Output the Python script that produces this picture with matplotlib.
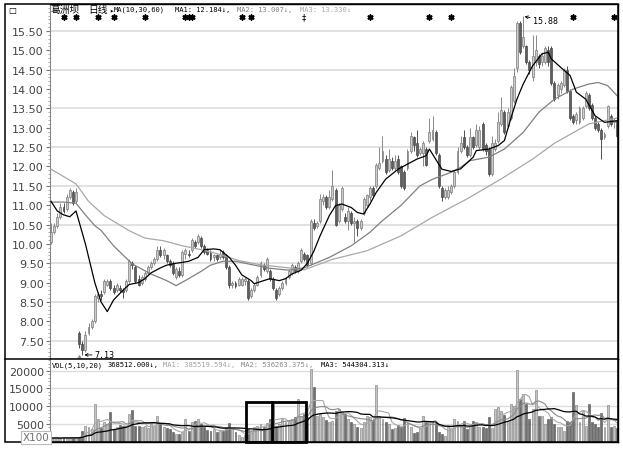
#!/usr/bin/env python3
"""
葛洲坝 日线 K线图 + 成交量 (仿行情软件截图)
输出: out.png
"""

import numpy as np
import pandas as pd
import matplotlib
matplotlib.use("Agg")
import matplotlib.pyplot as plt
from matplotlib.patches import Rectangle
from matplotlib.lines import Line2D
from matplotlib.ticker import MultipleLocator

# --- K线数据 (从截图估读) ---
opens = [
    10.05, 10.30, 10.45, 10.70, 10.95, 10.90, 11.20, 11.35, 11.10,
    7.70, 7.40, 7.25, 7.70, 7.85, 8.00, 8.60, 8.70,
    8.75, 8.95, 9.05, 8.85, 8.80, 8.85, 8.80, 8.80, 9.05, 9.50, 9.40, 9.10, 9.00, 9.10,
    9.25, 9.40, 9.50, 9.60, 9.85, 9.70, 9.70, 9.55, 9.50, 9.15, 9.30, 9.20, 9.75, 9.75,
    9.85, 10.05, 10.05, 10.15, 9.95, 9.85, 9.80, 9.65, 9.70, 9.65, 9.80,
    9.70, 9.40, 8.95, 9.00, 8.95, 8.95, 9.05, 9.05, 8.65, 8.80, 8.95, 9.20, 9.45, 9.30,
    9.30, 9.10, 8.80, 8.70, 8.85, 9.00, 9.15, 9.25,
    9.40, 9.30, 9.55, 9.75, 9.70, 9.50, 10.55, 10.45, 10.60,
    11.10, 11.20, 10.95, 11.15, 11.40, 10.60, 10.90, 10.70, 10.60, 10.80, 10.55, 10.60,
    10.40, 10.80, 11.00, 11.20, 11.45, 11.50, 11.95, 12.15, 12.20, 11.90, 12.15, 11.95,
    12.20, 12.00, 11.85, 11.95, 12.40, 12.75, 12.60, 12.35, 12.35, 12.45, 12.65, 12.70,
    12.90, 12.30, 11.45, 11.20, 11.20, 11.35, 11.50, 11.85, 12.40, 12.75, 12.50, 12.30,
    12.75, 12.55, 12.50, 13.10, 12.55, 12.45, 11.80, 12.45, 12.65, 13.10, 13.40, 13.05,
    13.25, 13.70, 14.55, 15.70, 15.10, 15.10, 14.70, 14.30, 14.70, 14.85, 14.70, 14.70,
    15.00, 15.05, 14.15, 13.85, 14.00, 14.10, 14.50, 13.95, 13.30, 13.20, 13.15, 13.25,
    13.55, 13.85, 13.60, 13.25, 13.10, 12.95, 12.75, 13.05, 13.30, 13.15, 13.20,
]
closes = [
    10.30, 10.45, 10.70, 10.95, 10.85, 11.20, 11.40, 11.05, 11.35,
    7.40, 7.25, 7.65, 7.85, 8.00, 8.65, 8.70, 8.65,
    9.05, 9.05, 8.85, 8.75, 8.95, 8.80, 8.75, 9.05, 9.55, 9.45, 9.05, 8.95, 9.15, 9.25,
    9.40, 9.50, 9.60, 9.85, 9.70, 9.85, 9.55, 9.45, 9.25, 9.35, 9.20, 9.80, 9.85, 9.70,
    10.10, 9.95, 10.20, 9.95, 9.80, 9.75, 9.60, 9.70, 9.60, 9.75, 9.65,
    9.40, 8.95, 9.00, 8.90, 9.10, 9.10, 9.10, 8.60, 8.80, 8.95, 9.15, 9.50, 9.35, 9.60,
    9.10, 8.85, 8.60, 8.85, 9.00, 9.10, 9.30, 9.45,
    9.30, 9.50, 9.85, 9.60, 9.45, 10.60, 10.40, 10.55, 11.15,
    11.20, 10.95, 11.20, 11.50, 10.50, 11.00, 11.45, 10.60, 10.85, 10.55, 10.60, 10.40,
    10.60, 11.15, 11.25, 11.45, 11.25, 12.05, 12.10, 12.40, 11.85, 12.20, 11.95, 12.15,
    11.85, 11.50, 11.45, 12.40, 12.80, 12.55, 12.30, 12.45, 12.60, 12.05, 12.90, 12.95,
    12.35, 11.50, 11.20, 11.40, 11.40, 11.50, 11.85, 12.40, 12.60, 12.50, 12.30, 12.75,
    12.50, 12.95, 12.95, 12.45, 12.40, 11.80, 12.60, 12.60, 13.15, 13.45, 12.90, 13.40,
    14.05, 14.35, 15.70, 14.95, 15.35, 14.70, 14.50, 14.85, 15.00, 14.65, 14.85, 15.05,
    14.70, 14.15, 13.75, 14.10, 14.15, 14.50, 13.95, 13.25, 13.15, 13.35, 13.50, 13.50,
    13.90, 13.50, 13.25, 13.00, 12.95, 12.70, 12.85, 13.55, 13.10, 13.20, 12.80,
]
highs = [
    10.55, 10.55, 10.80, 11.05, 11.05, 11.30, 11.45, 11.40, 11.45,
    7.75, 7.50, 7.75, 7.95, 8.05, 8.70, 8.75, 8.80,
    9.10, 9.10, 9.10, 8.95, 9.00, 8.95, 8.85, 9.10, 9.60, 9.55, 9.45, 9.20, 9.20, 9.30,
    9.45, 9.55, 9.65, 9.95, 9.95, 9.90, 9.75, 9.60, 9.55, 9.40, 9.40, 9.85, 9.90, 9.85,
    10.15, 10.10, 10.25, 10.20, 10.00, 9.90, 9.85, 9.75, 9.75, 9.85, 9.85,
    9.75, 9.45, 9.05, 9.05, 9.15, 9.15, 9.15, 9.10, 8.85, 9.00, 9.20, 9.55, 9.50, 9.65,
    9.35, 9.15, 8.85, 8.90, 9.05, 9.15, 9.35, 9.50,
    9.45, 9.55, 9.90, 9.80, 9.75, 10.65, 10.65, 10.60, 11.30,
    11.30, 11.25, 11.40, 11.90, 11.45, 11.05, 11.50, 10.80, 10.95, 10.85, 10.70, 10.65,
    10.65, 11.20, 11.30, 11.50, 11.50, 12.10, 12.50, 12.80, 12.30, 12.45, 12.25, 12.30,
    12.30, 12.05, 11.90, 12.45, 12.90, 12.80, 12.95, 12.50, 12.65, 12.50, 13.25, 13.30,
    12.95, 12.35, 11.50, 11.45, 11.50, 11.55, 11.90, 12.50, 12.80, 12.95, 12.55, 13.00,
    12.80, 13.10, 13.05, 13.15, 12.60, 12.50, 12.80, 12.70, 13.40, 13.80, 13.45, 13.50,
    14.10, 14.55, 15.75, 15.75, 15.88, 15.15, 14.75, 15.40, 15.40, 14.90, 14.95, 15.10,
    15.10, 15.10, 14.20, 14.15, 14.20, 14.55, 14.60, 14.00, 13.35, 13.40, 13.55, 13.55,
    13.95, 13.90, 13.65, 13.30, 13.15, 13.00, 12.90, 13.60, 13.35, 13.25, 13.25,
]
lows = [
    10.00, 10.25, 10.40, 10.65, 10.80, 10.85, 11.15, 11.00, 11.05,
    7.30, 7.13, 7.20, 7.65, 7.80, 7.95, 8.50, 8.55,
    8.70, 8.90, 8.80, 8.70, 8.75, 8.75, 8.60, 8.75, 9.00, 9.35, 9.00, 8.90, 8.95, 9.05,
    9.20, 9.35, 9.45, 9.55, 9.65, 9.60, 9.50, 9.40, 9.20, 9.10, 9.15, 9.15, 9.60, 9.65,
    9.80, 9.90, 10.00, 9.90, 9.75, 9.70, 9.55, 9.55, 9.55, 9.60, 9.60,
    9.35, 8.85, 8.85, 8.85, 8.90, 8.90, 8.95, 8.55, 8.60, 8.75, 8.90, 9.15, 9.30, 9.25,
    9.05, 8.80, 8.55, 8.65, 8.80, 8.95, 9.10, 9.20,
    9.25, 9.25, 9.50, 9.55, 9.40, 9.45, 10.35, 10.40, 10.55,
    11.00, 10.90, 10.90, 11.10, 10.45, 10.55, 10.85, 10.55, 10.35, 10.50, 10.05, 10.20,
    10.35, 10.75, 10.95, 11.10, 11.20, 11.45, 11.90, 12.10, 11.80, 11.85, 11.90, 11.90,
    11.80, 11.45, 11.40, 11.90, 12.35, 12.40, 12.25, 12.30, 12.00, 12.00, 12.60, 12.65,
    12.30, 11.45, 11.10, 11.15, 11.15, 11.30, 11.45, 11.80, 12.35, 12.45, 12.25, 12.25,
    12.45, 12.50, 12.45, 12.40, 12.30, 11.75, 11.75, 12.40, 12.60, 13.05, 12.85, 13.00,
    13.20, 13.65, 14.45, 14.90, 15.05, 14.65, 14.40, 14.20, 14.60, 14.55, 14.60, 14.65,
    14.60, 14.10, 13.70, 13.75, 13.90, 14.05, 13.90, 13.20, 13.10, 13.10, 13.10, 13.20,
    13.50, 13.45, 13.20, 12.95, 12.90, 12.20, 12.70, 13.00, 13.05, 13.00, 12.75,
]
# 成交量 (单位: 手 x100)
volumes = [
    900, 1100, 1000, 800, 1200, 1000, 900, 1100, 1000, 1300,
    3000, 4300, 4000, 3500, 10600, 6400, 3800, 5400, 4900, 8200,
    3500, 4000, 4700, 4500, 4000, 7700, 9000, 4500, 4300, 4000,
    4500, 3800, 4900, 4500, 7300, 4900, 4000, 3800, 3500, 2600,
    2100, 2100, 2800, 6300, 3100, 5400, 5900, 6300, 4900, 4000,
    3300, 3100, 3500, 2600, 3000, 3100, 4000, 5100, 3500, 2600,
    1700, 1200, 1700, 3500, 3100, 4000, 4500, 5000, 4200, 5200,
    6400, 10600, 4500, 5000, 6400, 5400, 5900, 6400, 6800, 12000,
    7300, 7800, 7000,
    20500, 15300, 7300, 7800, 6800, 6200, 5400, 5900, 8700, 9200,
    8200, 7800, 6400, 5400, 4900, 4200, 3700, 5400, 7300, 6800,
    6000, 15900, 7300, 6400, 5600, 4900, 3500, 3700, 4700, 4200,
    6500, 5400, 4000, 2400, 2600, 3800, 7100, 5400, 5900, 5900,
    5200, 2600, 2100, 1600, 4200, 3700, 6300, 5900, 4200, 5900,
    3500, 4500, 5900, 5600, 4200, 4000, 3700, 6800, 3700, 9200,
    9700, 8700, 7600, 5900, 10600, 10100, 20200, 12000, 13400, 10600,
    6400, 9200, 14600, 7300, 7100, 4900, 6300, 6800, 5000, 4200,
    4000, 3100, 5900, 5400, 14100, 10300, 5400, 8700, 4400, 10600,
    5400, 4900, 4200, 8100, 4000, 10300, 4000, 4300, 3685,
]

# --- 均线 (从截图读取的折点: K线序号, 价格) ---
ma10_idx = [0, 2, 4, 6, 8, 11, 14, 16, 18, 20, 23, 25, 28, 30, 32, 35, 37, 40, 42, 44,
            47, 49, 52, 54, 57, 59, 61, 64, 65, 68, 70, 73, 75, 77, 80, 82, 84, 86, 89, 91,
            93, 96, 98, 100, 102, 104, 107, 111, 114, 117, 120, 121, 123, 125, 128, 131,
            135, 136, 140, 143, 145, 147, 149, 151, 154, 157, 159, 160, 163, 166, 168,
            171, 174, 177, 181]
ma10_val = [11.10, 10.85, 10.75, 10.70, 10.85, 10.00, 9.00, 8.50, 8.25, 8.55,
            8.80, 8.95, 9.00, 9.10, 9.25, 9.38, 9.45, 9.50, 9.52, 9.55,
            9.65, 9.85, 9.87, 9.85, 9.65, 9.45, 9.20, 9.05, 8.97, 9.05,
            9.10, 9.05, 9.10, 9.22, 9.32, 9.50, 9.80, 10.20, 10.73, 10.99,
            11.03, 10.94, 10.81, 10.77, 11.03, 11.33, 11.67, 11.93, 12.06, 12.19,
            12.28, 12.45, 12.19, 11.93, 11.87, 11.94, 12.24, 12.41, 12.45, 12.54,
            12.67, 13.23, 13.74, 14.13, 14.60, 14.91, 14.95, 14.78, 14.56, 14.35,
            13.92, 13.74, 13.31, 13.14, 13.18]
ma30_idx = [0, 4, 8, 11, 14, 16, 20, 26, 32, 37, 40, 44, 48, 51, 55, 59, 65, 70, 76, 81,
            89, 96, 102, 106, 112, 118, 122, 128, 131, 134, 140, 145, 151, 156, 161, 167,
            172, 175, 178, 181]
ma30_val = [11.08, 11.08, 11.05, 10.75, 10.47, 10.35, 9.95, 9.48, 9.22, 9.05,
            8.92, 9.10, 9.29, 9.45, 9.55, 9.55, 9.45, 9.37, 9.32, 9.38,
            9.65, 9.95, 10.30, 10.60, 11.00, 11.50, 11.67, 11.85, 11.98, 12.15,
            12.24, 12.45, 12.88, 13.40, 13.74, 14.00, 14.13, 14.17, 14.09, 13.83]
ma60_idx = [0, 8, 12, 17, 25, 30, 36, 42, 48, 53, 60, 67, 76, 81, 90, 101, 112, 122,
            133, 144, 154, 161, 172, 181]
ma60_val = [11.93, 11.55, 11.10, 10.73, 10.34, 10.15, 10.08, 9.95, 9.85, 9.75,
            9.57, 9.46, 9.38, 9.33, 9.60, 9.82, 10.21, 10.69, 11.16, 11.68,
            12.19, 12.60, 13.10, 13.25]

# 信息地雷标记 (K线序号)
event_idx = [4, 8, 15, 20, 30, 43, 44, 45, 61, 64, 102, 121, 128, 167, 180]
event2_idx = [81]
exright_idx = [9]

price_ticks = [7.5, 8.0, 8.5, 9.0, 9.5, 10.0, 10.5, 11.0, 11.5, 12.0, 12.5,
               13.0, 13.5, 14.0, 14.5, 15.0, 15.5]
price_grid = [7.5, 8.5, 9.5, 10.5, 11.5, 12.5, 13.5, 14.5, 15.5]
vol_ticks = [5000, 10000, 15000, 20000]

price_title = [
    (51, "葛洲坝", "black", "cjk"),
    (88, "日线", "black", "cjk"),
    (109, "▸", "black", "mono"),
    (114, "MA(10,30,60)", "black", "mono"),
    (175, "MA1: 12.184↓,", "black", "mono"),
    (237, "MA2: 13.007↓,", "#808080", "mono"),
    (300, "MA3: 13.330↓", "#a8a8a8", "mono"),
]
vol_title = [
    (52, "VOL(5,10,20)", "black"),
    (108, "368512.000↓,", "black"),
    (163, "MA1: 385519.594↓,", "#a0a0a0"),
    (241, "MA2: 536263.375↓,", "#888888"),
    (321, "MA3: 544304.313↓", "black"),
]

CJK = ["Noto Sans CJK SC", "DejaVu Sans"]
MONO = ["DejaVu Sans Mono", "DejaVu Sans"]

W, H = 623, 452


def fx(px):
    return px / W


def fy(py):
    return 1 - py / H


def main():
    o = np.array(opens)
    c = np.array(closes)
    h = np.array(highs)
    lo = np.array(lows)
    v = np.array(volumes, dtype=float)
    idx = np.arange(len(c))
    up = c >= o

    fig = plt.figure(figsize=(W / 100, H / 100), dpi=100)
    fig.patch.set_facecolor("white")
    ax = fig.add_axes([fx(50), fy(360), fx(618) - fx(50), fy(5) - fy(360)])
    axv = fig.add_axes([fx(50), fy(443), fx(618) - fx(50), fy(360) - fy(443)], sharex=ax)

    # --- K线 ---
    for g in price_grid:
        ax.axhline(g, color="#dcdcdc", lw=1.2, zorder=0)
    ax.vlines(idx[up], lo[up], h[up], color="#8a8a8a", lw=0.7, zorder=2)
    ax.vlines(idx[~up], lo[~up], h[~up], color="#505050", lw=0.7, zorder=2)
    body_lo = np.minimum(o, c)
    body_h = np.maximum(np.abs(c - o), 0.02)
    ax.bar(idx[up], body_h[up], bottom=body_lo[up], width=0.62,
           color="#cccccc", edgecolor="#7a7a7a", linewidth=0.5, zorder=3)
    ax.bar(idx[~up], body_h[~up], bottom=body_lo[~up], width=0.62,
           color="#5e5e5e", edgecolor="#4a4a4a", linewidth=0.5, zorder=3)

    ax.plot(ma60_idx, ma60_val, color="#a8a8a8", lw=0.9, zorder=4)
    ax.plot(ma30_idx, ma30_val, color="#808080", lw=0.9, zorder=4)
    ax.plot(ma10_idx, ma10_val, color="black", lw=0.9, zorder=5)

    # 最高/最低价标注
    hi_i = int(np.argmax(h))
    lo_i = int(np.argmin(lo))
    ax.annotate(f"{h[hi_i]:.2f}", xy=(hi_i, h[hi_i]), xytext=(7, -3),
                textcoords="offset points", fontsize=6, family=MONO,
                va="center", ha="left",
                arrowprops=dict(arrowstyle="->", lw=0.6, color="black",
                                shrinkA=0, shrinkB=1, mutation_scale=5))
    ax.annotate(f"{lo[lo_i]:.2f}", xy=(lo_i, lo[lo_i]), xytext=(9, 0),
                textcoords="offset points", fontsize=6, family=MONO,
                va="center", ha="left",
                arrowprops=dict(arrowstyle="->", lw=0.6, color="black",
                                shrinkA=0, shrinkB=1.5, mutation_scale=5))

    # 信息地雷
    trans = ax.get_xaxis_transform()
    ax.scatter(event_idx, [0.963] * len(event_idx), transform=trans,
               marker=(6, 2, 0), s=12, color="black", linewidths=1.2, zorder=6)
    for e in event2_idx:
        ax.text(e, 0.963, "‡", transform=trans, fontsize=6, ha="center",
                va="center", color="black")
    ax.scatter(exright_idx, [0.006] * len(exright_idx), transform=trans,
               marker="^", s=6, color="#909090", zorder=6, clip_on=False)

    ax.set_xlim(-0.32, 181.32)
    ax.set_ylim(7.025, 16.198)
    ax.set_yticks(price_ticks)
    ax.set_yticklabels([f"{t:.2f}" for t in price_ticks])
    ax.yaxis.set_minor_locator(MultipleLocator(0.1))
    ax.tick_params(axis="y", which="major", length=3, width=0.8, color="#777777",
                   labelsize=8, labelcolor="#444444", pad=1.5)
    ax.tick_params(axis="y", which="minor", length=1.5, width=0.6, color="#999999")
    ax.tick_params(axis="x", bottom=False, labelbottom=False)

    # --- 成交量 ---
    for t in vol_ticks:
        axv.axhline(t, color="#dcdcdc", lw=1.0, zorder=0)
    axv.bar(idx[up], v[up], width=0.62, color="#c4c4c4", edgecolor="#7a7a7a",
            linewidth=0.4, zorder=2)
    axv.bar(idx[~up], v[~up], width=0.62, color="#6e6e6e", edgecolor="#555555",
            linewidth=0.4, zorder=2)
    vs = pd.Series(v)
    axv.plot(idx, vs.rolling(5, min_periods=1).mean(), color="#a8a8a8", lw=0.8, zorder=3)
    axv.plot(idx, vs.rolling(10, min_periods=1).mean(), color="#8a8a8a", lw=0.8, zorder=3)
    axv.plot(idx, vs.rolling(20, min_periods=1).mean(), color="black", lw=0.9, zorder=4)

    # 框选区域
    axv.add_patch(Rectangle((62.3, 0), 19.2, 11150, fill=False, ec="black",
                            lw=2.0, zorder=6, clip_on=False))
    axv.plot([70.7, 70.7], [0, 11150], color="black", lw=2.0, zorder=6)

    axv.set_ylim(-140, 23300)
    axv.set_yticks(vol_ticks)
    axv.set_yticklabels([str(t) for t in vol_ticks])
    axv.yaxis.set_minor_locator(MultipleLocator(1000))
    axv.tick_params(axis="y", which="major", length=3, width=0.8, color="#777777",
                    labelsize=8, labelcolor="#444444", pad=1.5)
    axv.tick_params(axis="y", which="minor", length=1.5, width=0.6, color="#999999")
    axv.tick_params(axis="x", bottom=False, labelbottom=False)

    for a in (ax, axv):
        a.spines["left"].set_color("#888888")
        a.spines["left"].set_linewidth(0.8)
        for s in ("top", "right", "bottom"):
            a.spines[s].set_color("black")
            a.spines[s].set_linewidth(1.0)
    axv.spines["top"].set_visible(False)

    # --- 外框 ---
    fig.add_artist(Rectangle((fx(5), fy(443)), fx(618) - fx(5), fy(5) - fy(443),
                             transform=fig.transFigure, fill=False, ec="black", lw=1.1))
    fig.add_artist(Line2D([fx(5), fx(618)], [fy(360), fy(360)],
                          transform=fig.transFigure, color="black", lw=1.1))

    # --- 标题文字 ---
    for px, txt, col, kind in price_title:
        if kind == "cjk":
            fig.text(fx(px), fy(10), txt, fontsize=7, family=CJK, color=col,
                     ha="left", va="center")
        else:
            fig.text(fx(px), fy(10), txt, fontsize=5.1, family=MONO, color=col,
                     ha="left", va="center")
    for px, txt, col in vol_title:
        fig.text(fx(px), fy(365.5), txt, fontsize=5.1, family=MONO, color=col,
                 ha="left", va="center")

    fig.text(fx(12), fy(10), "□", fontsize=6, color="black", ha="center", va="center")
    fig.text(fx(36), fy(438.5), "X100", fontsize=7.5, color="#707070",
             ha="center", va="center",
             bbox=dict(boxstyle="square,pad=0.15", fc="white", ec="#bbbbbb", lw=0.8))

    fig.savefig("out.png", dpi=100, facecolor="white")
    plt.close(fig)


if __name__ == "__main__":
    main()
